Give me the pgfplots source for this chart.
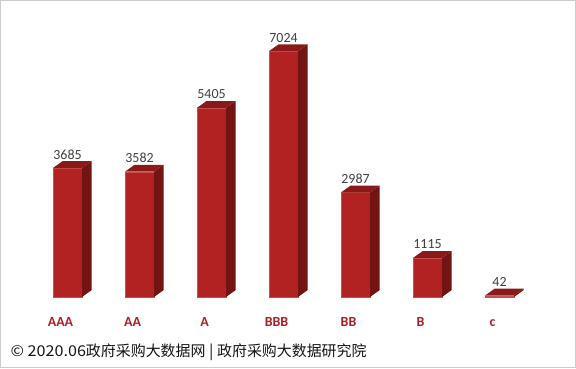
\documentclass[border=0pt]{standalone}
\usepackage{pgfplots}
\pgfplotsset{compat=1.18}
\usepackage{fontspec}
\setmainfont{Carlito}
\newfontfamily\cjk{Noto Sans CJK SC}
\newfontfamily\cjklat[FakeStretch=1.08]{Noto Sans CJK SC}
\definecolor{frontc}{RGB}{178,34,34}
\definecolor{edgec}{RGB}{198,80,80}
\definecolor{sidec}{RGB}{114,20,20}
\definecolor{topc}{RGB}{138,26,26}
\definecolor{valc}{RGB}{64,64,64}
\definecolor{catc}{RGB}{172,30,36}
\definecolor{borderc}{RGB}{205,205,205}
\pgfdeclareplotmark{prism}{%
  \pgfmathsetmacro\hh{\rawy*0.035}%
  \pgfmathsetmacro\hb{6.8-\hh}%
  \pgfscope
    \pgfsetfillcolor{frontc}%
    \pgfpathrectanglecorners{\pgfpoint{-14.5bp}{0bp}}{\pgfpoint{14.5bp}{-\hh bp}}%
    \pgfusepath{fill}%
  \endpgfscope
  \pgfscope
    \pgfsetstrokecolor{edgec}\pgfsetlinewidth{0.45bp}%
    \pgfpathrectanglecorners{\pgfpoint{-14.25bp}{-0.25bp}}{\pgfpoint{14.25bp}{-\hh bp}}%
    \pgfusepath{stroke}%
  \endpgfscope
  \pgfscope
    \pgfsetfillcolor{sidec}%
    \pgfpathmoveto{\pgfpoint{14.5bp}{0bp}}%
    \pgfpathlineto{\pgfpoint{24bp}{6.8bp}}%
    \pgfpathlineto{\pgfpoint{24bp}{\hb bp}}%
    \pgfpathlineto{\pgfpoint{14.5bp}{-\hh bp}}%
    \pgfpathclose
    \pgfusepath{fill}%
  \endpgfscope
  \pgfscope
    \pgfsetfillcolor{topc}%
    \pgfpathmoveto{\pgfpoint{-14.5bp}{0bp}}%
    \pgfpathlineto{\pgfpoint{14.5bp}{0bp}}%
    \pgfpathlineto{\pgfpoint{24bp}{6.8bp}}%
    \pgfpathlineto{\pgfpoint{-5bp}{6.8bp}}%
    \pgfpathclose
    \pgfusepath{fill}%
  \endpgfscope
}
\begin{document}
\begin{tikzpicture}
\begin{axis}[
  scale only axis, width=576bp, height=368bp,
  xmin=-0.9375, xmax=7.0625, ymin=-2028.571, ymax=8485.714,
  hide axis, clip=false,
]
\coordinate (bl) at (rel axis cs:0,0);
\coordinate (tr) at (rel axis cs:1,1);
\addplot[
  only marks, mark=prism, point meta=y,
  visualization depends on={y \as \rawy},
  nodes near coords={\pgfmathprintnumber[fixed,precision=0,1000 sep={},assume math mode=true]{\pgfplotspointmeta}},
  every node near coord/.append style={anchor=base, inner sep=0pt, yshift=9bp,
    font=\fontsize{14}{14}\selectfont, text=valc},
] coordinates {
  (0,3685) (1,3582) (2,5405) (3,7024) (4,2987) (5,1115) (6,42)
};
\node[anchor=base, inner sep=0pt, text=catc, font=\fontsize{14}{14}\selectfont\bfseries, xshift=-7bp, yshift=-29bp] at (axis cs:0,0) {AAA};
\node[anchor=base, inner sep=0pt, text=catc, font=\fontsize{14}{14}\selectfont\bfseries, xshift=-7bp, yshift=-29bp] at (axis cs:1,0) {AA};
\node[anchor=base, inner sep=0pt, text=catc, font=\fontsize{14}{14}\selectfont\bfseries, xshift=-7bp, yshift=-29bp] at (axis cs:2,0) {A};
\node[anchor=base, inner sep=0pt, text=catc, font=\fontsize{14}{14}\selectfont\bfseries, xshift=-7bp, yshift=-29bp] at (axis cs:3,0) {BBB};
\node[anchor=base, inner sep=0pt, text=catc, font=\fontsize{14}{14}\selectfont\bfseries, xshift=-7bp, yshift=-29bp] at (axis cs:4,0) {BB};
\node[anchor=base, inner sep=0pt, text=catc, font=\fontsize{14}{14}\selectfont\bfseries, xshift=-7bp, yshift=-29bp] at (axis cs:5,0) {B};
\node[anchor=base, inner sep=0pt, text=catc, font=\fontsize{14}{14}\selectfont\bfseries, xshift=-7bp, yshift=-29bp] at (axis cs:6,0) {c};
\end{axis}
\draw[borderc, line width=1.2bp] ([shift={(0.6bp,0.6bp)}]bl) rectangle ([shift={(-0.6bp,-0.6bp)}]tr);
\node[anchor=base west, inner sep=0pt, text={rgb,255:red,20;green,20;blue,20}, font=\cjk\fontsize{15}{15}\selectfont] at ([shift={(10.5bp,11.5bp)}]bl) {{\cjklat © 2020.06}政府采购大数据网{\cjklat{} | }政府采购大数据研究院};
\pgfresetboundingbox
\path[use as bounding box] (bl) rectangle (tr);
\end{tikzpicture}
\end{document}
